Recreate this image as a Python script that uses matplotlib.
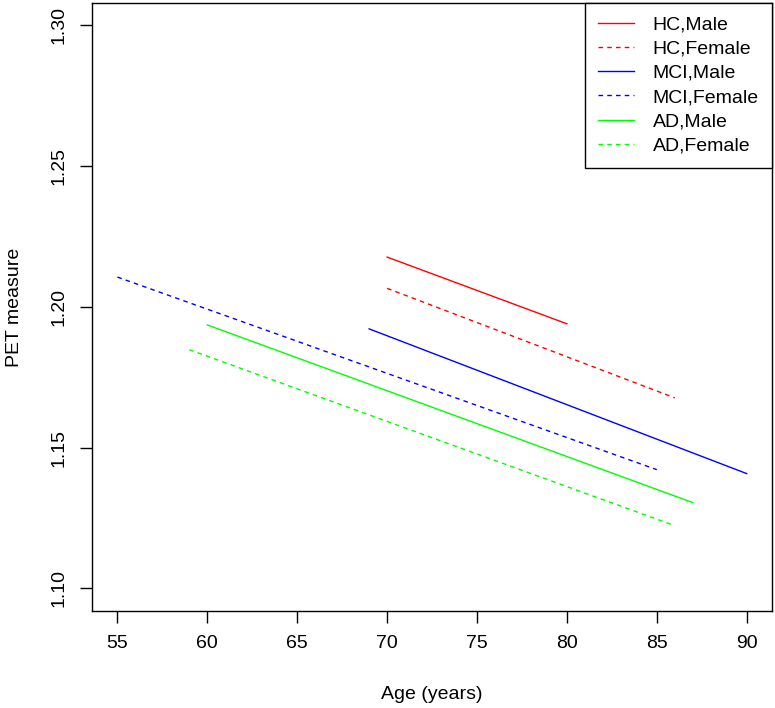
import matplotlib.pyplot as plt
import numpy as np

plt.rcParams['font.family'] = ['Liberation Sans', 'DejaVu Sans']

# --- data: start/end of each fitted line ---
labels = ['HC,Male', 'HC,Female', 'MCI,Male', 'MCI,Female', 'AD,Male', 'AD,Female']
age_start = [70, 70, 69, 55, 60, 59]
age_end = [80, 86, 90, 85, 87, 86]
pet_start = [1.2177, 1.2066, 1.1922, 1.2106, 1.1936, 1.1848]
pet_end = [1.1940, 1.1677, 1.1408, 1.1422, 1.1305, 1.1223]
colors = ['#FF0000', '#FF0000', '#0000FF', '#0000FF', '#00FF00', '#00FF00']
styles = ['solid', 'dashed', 'solid', 'dashed', 'solid', 'dashed']

x_ticks = [55, 60, 65, 70, 75, 80, 85, 90]
y_ticks = [1.10, 1.15, 1.20, 1.25, 1.30]

fig = plt.figure(figsize=(7.75, 7.08), dpi=100)
ax = fig.add_axes([0.119, 0.137, 0.877, 0.859])

for i in range(len(labels)):
    ln, = ax.plot([age_start[i], age_end[i]], [pet_start[i], pet_end[i]],
                  color=colors[i], linewidth=1.0, label=labels[i])
    if styles[i] == 'dashed':
        ln.set_dashes((3.3, 3.0))

ax.set_xlim(53.6, 91.4)
ax.set_ylim(1.092, 1.308)
ax.set_xticks(x_ticks)
ax.set_yticks(y_ticks)
ax.set_yticklabels(['%.2f' % v for v in y_ticks], rotation=90, va='center')
ax.tick_params(labelsize=14, length=8.5, width=1, pad=9)
for s in ax.spines.values():
    s.set_linewidth(1)

ax.set_xlabel('Age (years)', fontsize=14, labelpad=24)
ax.set_ylabel('PET measure', fontsize=14, labelpad=20)

leg = ax.legend(loc='upper right', fontsize=14, frameon=True, fancybox=False,
                edgecolor='black', framealpha=1, borderaxespad=0,
                handlelength=1.85, handletextpad=0.95, labelspacing=0.34,
                borderpad=0.67)
leg.get_frame().set_linewidth(1)

plt.savefig('out.png', dpi=100)
